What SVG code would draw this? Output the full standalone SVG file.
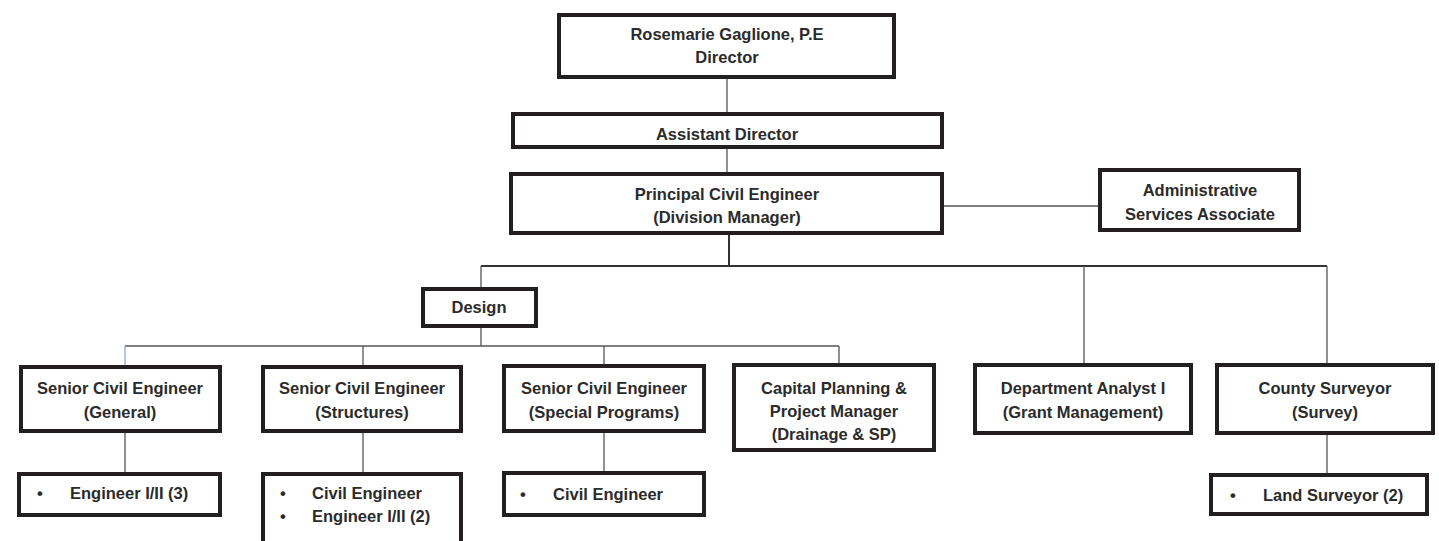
<svg xmlns="http://www.w3.org/2000/svg" width="1439" height="541" viewBox="0 0 1439 541">
<style>
.box{fill:#fff;stroke:#231f20;stroke-width:4}
.t{font-family:"Liberation Sans",Arial,sans-serif;font-weight:bold;font-size:16.5px;fill:#2b2b2b;text-anchor:middle}
.l{text-anchor:start}
.c{stroke:#555;stroke-width:1.3;fill:none}
.bus{stroke:#333;stroke-width:2;fill:none}
</style>
<rect width="1439" height="541" fill="#fff"/>
<g id="connectors">
<line class="c" x1="727" y1="79" x2="727" y2="112"/>
<line class="c" x1="727" y1="149" x2="727" y2="172"/>
<line class="c" x1="944" y1="206" x2="1098" y2="206"/>
<line class="bus" x1="729" y1="235" x2="729" y2="266"/>
<line class="bus" x1="481" y1="266" x2="1327" y2="266"/>
<line class="c" x1="481" y1="266" x2="481" y2="287"/>
<line class="c" x1="481" y1="328" x2="481" y2="346"/>
<line class="c" x1="1084" y1="266" x2="1084" y2="363"/>
<line class="c" x1="1327" y1="266" x2="1327" y2="363"/>
<line class="c" x1="125" y1="346" x2="839" y2="346"/>
<line x1="125" y1="346" x2="125" y2="365" stroke="#8eaadb" stroke-width="1.3"/>
<line class="c" x1="363" y1="346" x2="363" y2="365"/>
<line class="c" x1="604" y1="346" x2="604" y2="364"/>
<line class="c" x1="839" y1="346" x2="839" y2="363"/>
<line class="c" x1="125" y1="433" x2="125" y2="472"/>
<line class="c" x1="363" y1="433" x2="363" y2="472"/>
<line class="c" x1="604" y1="433" x2="604" y2="471"/>
<line class="c" x1="1327" y1="435" x2="1327" y2="473"/>
</g>
<g id="director"><rect class="box" x="559" y="15" width="335" height="62"/>
<text class="t" x="727" y="40">Rosemarie Gaglione, P.E</text><text class="t" x="727" y="63">Director</text></g>
<g id="assistant"><rect class="box" x="513" y="114" width="429" height="33"/>
<text class="t" x="727" y="140">Assistant Director</text></g>
<g id="principal"><rect class="box" x="511" y="174" width="431" height="59"/>
<text class="t" x="727" y="200">Principal Civil Engineer</text><text class="t" x="727" y="223">(Division Manager)</text></g>
<g id="admin"><rect class="box" x="1100" y="170" width="199" height="60"/>
<text class="t" x="1200" y="196">Administrative</text><text class="t" x="1200" y="220">Services Associate</text></g>
<g id="design"><rect class="box" x="423" y="289" width="113" height="37"/>
<text class="t" x="479" y="313">Design</text></g>
<g id="general"><rect class="box" x="21" y="367" width="199" height="64"/>
<text class="t" x="120" y="394">Senior Civil Engineer</text><text class="t" x="120" y="418">(General)</text></g>
<g id="structures"><rect class="box" x="263" y="367" width="198" height="64"/>
<text class="t" x="362" y="394">Senior Civil Engineer</text><text class="t" x="362" y="418">(Structures)</text></g>
<g id="special"><rect class="box" x="504" y="366" width="200" height="65"/>
<text class="t" x="604" y="394">Senior Civil Engineer</text><text class="t" x="604" y="418">(Special Programs)</text></g>
<g id="capital"><rect class="box" x="734" y="365" width="200" height="85"/>
<text class="t" x="834" y="394">Capital Planning &amp;</text><text class="t" x="834" y="417">Project Manager</text><text class="t" x="834" y="440">(Drainage &amp; SP)</text></g>
<g id="analyst"><rect class="box" x="975" y="365" width="216" height="68"/>
<text class="t" x="1083" y="394">Department Analyst I</text><text class="t" x="1083" y="418">(Grant Management)</text></g>
<g id="county"><rect class="box" x="1217" y="365" width="216" height="68"/>
<text class="t" x="1325" y="394">County Surveyor</text><text class="t" x="1325" y="418">(Survey)</text></g>
<g id="eng3"><rect class="box" x="19" y="474" width="201" height="41"/>
<text class="t l" x="37" y="499">•</text><text class="t l" x="70" y="499">Engineer I/II (3)</text></g>
<g id="structsub"><rect class="box" x="263" y="474" width="198" height="80"/>
<text class="t l" x="280" y="499">•</text><text class="t l" x="312" y="499">Civil Engineer</text>
<text class="t l" x="280" y="522">•</text><text class="t l" x="312" y="522">Engineer I/II (2)</text></g>
<g id="civilsub"><rect class="box" x="504" y="473" width="200" height="42"/>
<text class="t l" x="520" y="500">•</text><text class="t l" x="553" y="500">Civil Engineer</text></g>
<g id="land"><rect class="box" x="1211" y="475" width="216" height="39"/>
<text class="t l" x="1230" y="501">•</text><text class="t l" x="1263" y="501">Land Surveyor (2)</text></g>
</svg>
